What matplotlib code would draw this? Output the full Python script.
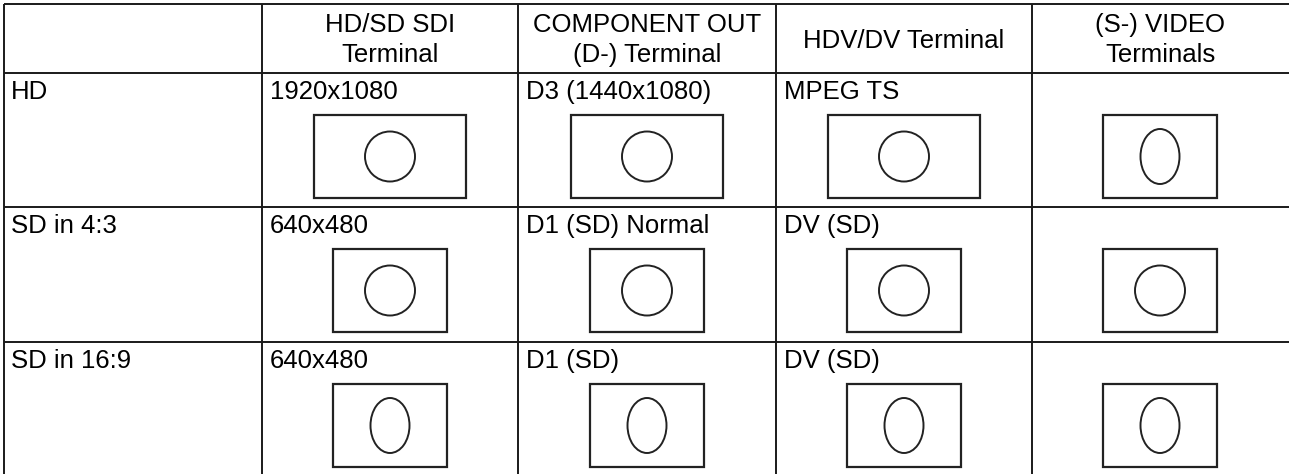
import matplotlib.pyplot as plt
from matplotlib.patches import Rectangle, Ellipse

plt.rcParams['font.family'] = ['Liberation Sans', 'DejaVu Sans']

# table content
col_headers = [["HD/SD SDI", "Terminal"], ["COMPONENT OUT", "(D-) Terminal"],
               ["HDV/DV Terminal"], ["(S-) VIDEO", "Terminals"]]
row_labels = ["HD", "SD in 4:3", "SD in 16:9"]
cell_labels = [["1920x1080", "D3 (1440x1080)", "MPEG TS", ""],
               ["640x480", "D1 (SD) Normal", "DV (SD)", ""],
               ["640x480", "D1 (SD)", "DV (SD)", ""]]
# frame aspect of the screen icon and the shape drawn inside it
cell_frames = [["16:9", "16:9", "16:9", "4:3"],
               ["4:3", "4:3", "4:3", "4:3"],
               ["4:3", "4:3", "4:3", "4:3"]]
cell_shapes = [["circle", "circle", "circle", "ellipse"],
               ["circle", "circle", "circle", "circle"],
               ["ellipse", "ellipse", "ellipse", "ellipse"]]

# layout in pixels
col_edges = [4, 262, 518, 776, 1032, 1288]
row_edges = [4, 73, 207, 342, 477]
W, H = 1289, 474
fs = 18.5
line_col = '#1a1a1a'

fig = plt.figure(figsize=(W / 100, H / 100), dpi=100)
ax = fig.add_axes([0, 0, 1, 1])
ax.set_xlim(0, W)
ax.set_ylim(H, 0)
ax.axis('off')

# grid
for x in col_edges[:-1]:
    ax.plot([x, x], [row_edges[0], H + 5], color=line_col, lw=1.4, solid_capstyle='butt')
for y in row_edges[:-1]:
    ax.plot([col_edges[0], W + 5], [y, y], color=line_col, lw=1.4, solid_capstyle='butt')

# header
for j, lines in enumerate(col_headers):
    cx = (col_edges[j + 1] + col_edges[j + 2]) / 2
    if len(lines) == 2:
        ax.text(cx, 32, lines[0], ha='center', va='baseline', fontsize=fs)
        ax.text(cx, 62, lines[1], ha='center', va='baseline', fontsize=fs)
    else:
        ax.text(cx, 47.5, lines[0], ha='center', va='baseline', fontsize=fs)

# body
for i, label in enumerate(row_labels):
    top = row_edges[i + 1]
    ax.text(col_edges[0] + 7, top + 26, label, ha='left', va='baseline', fontsize=fs)
    for j in range(4):
        left, right = col_edges[j + 1], col_edges[j + 2]
        ax.text(left + 8, top + 26, cell_labels[i][j],
                ha='left', va='baseline', fontsize=fs)
        cx = (left + right) / 2
        cy = top + 83.5
        h = 83
        w = 152 if cell_frames[i][j] == "16:9" else 114
        ax.add_patch(Rectangle((cx - w / 2, cy - h / 2), w, h, fill=False,
                               edgecolor='#222222', lw=1.6))
        if cell_shapes[i][j] == "circle":
            ew, eh = 50, 50
        else:
            ew, eh = 39, 55
        ax.add_patch(Ellipse((cx, cy), ew, eh, fill=False, edgecolor='#222222', lw=1.4))

fig.savefig('out.png', dpi=100)
